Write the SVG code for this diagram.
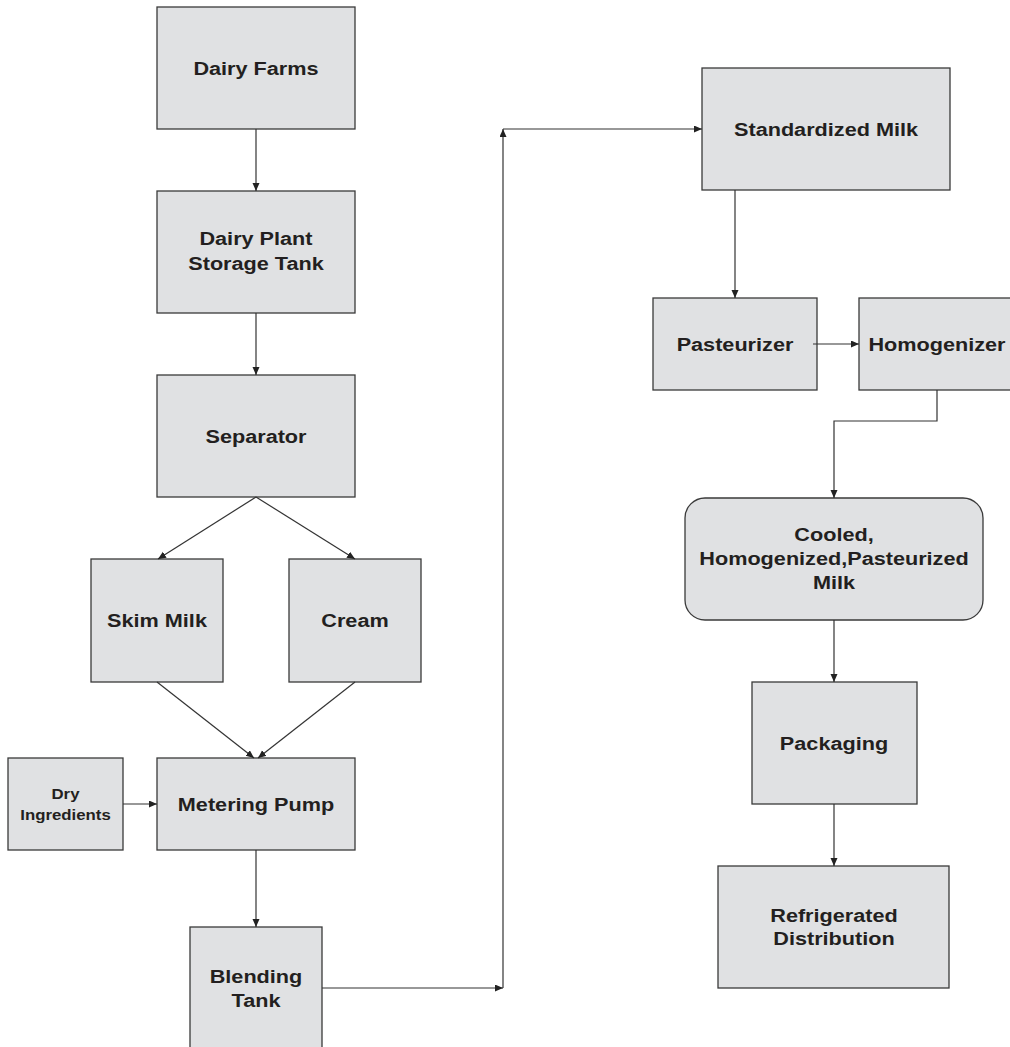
<svg xmlns="http://www.w3.org/2000/svg" width="1010" height="1047" viewBox="0 0 1010 1047">
  <style>
    .box { fill: #e0e1e3; stroke: #3a3a3a; stroke-width: 1.3; }
    .lbl { font-family: "Liberation Sans", Arial, sans-serif; font-weight: bold; font-size: 19px; fill: #231f20; text-anchor: middle; }
    .sm { font-size: 15px; }
    .wire { fill: none; stroke: #333; stroke-width: 1.2; marker-end: url(#arrow); }
  </style>
  <defs>
    <marker id="arrow" markerUnits="userSpaceOnUse" markerWidth="9" markerHeight="8" refX="8" refY="3.5" orient="auto">
      <path d="M0,0 L8,3.5 L0,7 z" fill="#222"/>
    </marker>
  </defs>
  <rect width="1010" height="1047" fill="#fff"/>

  <!-- process nodes, left column -->
  <g id="dairy-farms">
    <rect class="box" x="157" y="7" width="198" height="122"/>
    <text class="lbl" transform="translate(256 75) scale(1.14 1)">Dairy Farms</text>
  </g>
  <g id="storage-tank">
    <rect class="box" x="157" y="191" width="198" height="122"/>
    <text class="lbl" transform="translate(256 245) scale(1.14 1)"><tspan x="0">Dairy Plant</tspan><tspan x="0" dy="25">Storage Tank</tspan></text>
  </g>
  <g id="separator">
    <rect class="box" x="157" y="375" width="198" height="122"/>
    <text class="lbl" transform="translate(256 443) scale(1.14 1)">Separator</text>
  </g>
  <g id="skim-milk">
    <rect class="box" x="91" y="559" width="132" height="123"/>
    <text class="lbl" transform="translate(157 627) scale(1.14 1)">Skim Milk</text>
  </g>
  <g id="cream">
    <rect class="box" x="289" y="559" width="132" height="123"/>
    <text class="lbl" transform="translate(355 627) scale(1.14 1)">Cream</text>
  </g>
  <g id="dry-ingredients">
    <rect class="box" x="8" y="758" width="115" height="92"/>
    <text class="lbl sm" transform="translate(65.5 799) scale(1.12 1)"><tspan x="0">Dry</tspan><tspan x="0" dy="21">Ingredients</tspan></text>
  </g>
  <g id="metering-pump">
    <rect class="box" x="157" y="758" width="198" height="92"/>
    <text class="lbl" transform="translate(256 811) scale(1.14 1)">Metering Pump</text>
  </g>
  <g id="blending-tank">
    <rect class="box" x="190" y="927" width="132" height="130"/>
    <text class="lbl" transform="translate(256 983) scale(1.14 1)"><tspan x="0">Blending</tspan><tspan x="0" dy="24">Tank</tspan></text>
  </g>

  <!-- process nodes, right column -->
  <g id="standardized-milk">
    <rect class="box" x="702" y="68" width="248" height="122"/>
    <text class="lbl" transform="translate(826 136) scale(1.14 1)">Standardized Milk</text>
  </g>
  <g id="pasteurizer">
    <rect class="box" x="653" y="298" width="164" height="92"/>
    <text class="lbl" transform="translate(735 351) scale(1.14 1)">Pasteurizer</text>
  </g>
  <g id="homogenizer">
    <rect class="box" x="859" y="298" width="156" height="92"/>
    <text class="lbl" transform="translate(937 351) scale(1.14 1)">Homogenizer</text>
  </g>
  <g id="cooled-milk">
    <rect class="box" x="685" y="498" width="298" height="122" rx="20" ry="20"/>
    <text class="lbl" transform="translate(834 541) scale(1.14 1)"><tspan x="0">Cooled,</tspan><tspan x="0" dy="24">Homogenized,Pasteurized</tspan><tspan x="0" dy="24">Milk</tspan></text>
  </g>
  <g id="packaging">
    <rect class="box" x="752" y="682" width="165" height="122"/>
    <text class="lbl" transform="translate(834 750) scale(1.14 1)">Packaging</text>
  </g>
  <g id="refrigerated-distribution">
    <rect class="box" x="718" y="866" width="231" height="122"/>
    <text class="lbl" transform="translate(834 922) scale(1.14 1)"><tspan x="0">Refrigerated</tspan><tspan x="0" dy="23">Distribution</tspan></text>
  </g>

  <!-- connectors -->
  <g id="connectors">
    <path class="wire" d="M256,129 V191"/>
    <path class="wire" d="M256,313 V375"/>
    <path class="wire" d="M256,497 L158,559"/>
    <path class="wire" d="M256,497 L355,559"/>
    <path class="wire" d="M157,682 L254,758"/>
    <path class="wire" d="M355,682 L258,758"/>
    <path class="wire" d="M123,804 H157"/>
    <path class="wire" d="M256,850 V927"/>
    <path class="wire" d="M322,988 H503"/>
    <path class="wire" d="M503,988 V129"/>
    <path class="wire" d="M503,129 H702"/>
    <path class="wire" d="M735,190 V298"/>
    <path class="wire" d="M813,344 H859"/>
    <path class="wire" d="M937,390 V421 H834 V498"/>
    <path class="wire" d="M834,620 V682"/>
    <path class="wire" d="M834,804 V866"/>
  </g>
</svg>
